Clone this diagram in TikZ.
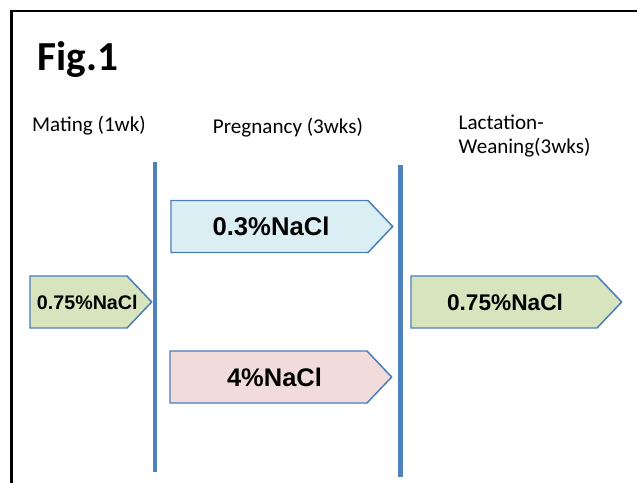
\documentclass[tikz,border=0pt]{standalone}
\usepackage{fontspec}
\setmainfont{Carlito}
\newfontfamily\boxfont{Liberation Sans}
\usetikzlibrary{shapes.symbols, positioning}
\definecolor{cline}{HTML}{4F81BD}
\definecolor{cedge}{HTML}{4A7EBB}
\definecolor{cgreen}{HTML}{D7E4BD}
\definecolor{cblue}{HTML}{DBEEF4}
\definecolor{cpink}{HTML}{F2DCDB}
\tikzset{
  every picture/.style={line width=0.85pt},
  salt/.style={signal, signal to=east, signal pointer angle=93, draw=cedge, fill=#1,
    inner sep=0pt, minimum height=52*0.02cm, align=center},
  salt/.default=cgreen,
  phase/.style={draw=cline, line width=2.3pt},
  period/.style={font=\fontsize{12}{14}\selectfont, align=left},
}
\begin{document}
\begin{tikzpicture}[x=0.02cm, y=-0.02cm]
  \useasboundingbox (0,0) rectangle (637,483);
  % frame
  \draw[line width=1.7pt] (11.5,490) |- (645,11);
  \node[font=\fontsize{23.5}{28}\selectfont\bfseries, anchor=base west, inner sep=0pt] (fig) at (37,71) {Fig.1};
  % periods
  \node[period] (mating) at (89,126) {Mating (1wk)};
  \node[period] (pregnancy) at (288,128) {Pregnancy (3wks)};
  \node[period, anchor=west, inner sep=0pt] (lactation) at (458,136) {Lactation-\\Weaning(3wks)};
  % phase borders
  \coordinate (b1top) at (155,162);
  \coordinate (b1bot) at (155,472);
  \coordinate (b2top) at (400.5,165);
  \coordinate (b2bot) at (400.5,477);
  \draw[phase] (b1top) -- (b1bot);
  \draw[phase] (b2top) -- (b2bot);
  % diets
  \node[salt, align=left, text width=97*0.02cm, font=\boxfont\bfseries\fontsize{11.2}{13}\selectfont] (mate) at (78.5,302) {\hspace*{0.14cm}0.75\%NaCl};
  \node[salt=cblue, text width=197*0.02cm, font=\boxfont\bfseries\fontsize{14.6}{17}\selectfont] (low) at (269.5,226.5) {\hspace*{0.06cm}0.3\%NaCl};
  \node[salt=cpink, text width=197*0.02cm, font=\boxfont\bfseries\fontsize{14.5}{17}\selectfont] (high) at (268.5,377) {\hspace*{0.24cm}4\%NaCl};
  \node[salt, text width=186*0.02cm, font=\boxfont\bfseries\fontsize{12.9}{15}\selectfont] (wean) at (504,302) {\hspace*{0.04cm}0.75\%NaCl};
\end{tikzpicture}
\end{document}
